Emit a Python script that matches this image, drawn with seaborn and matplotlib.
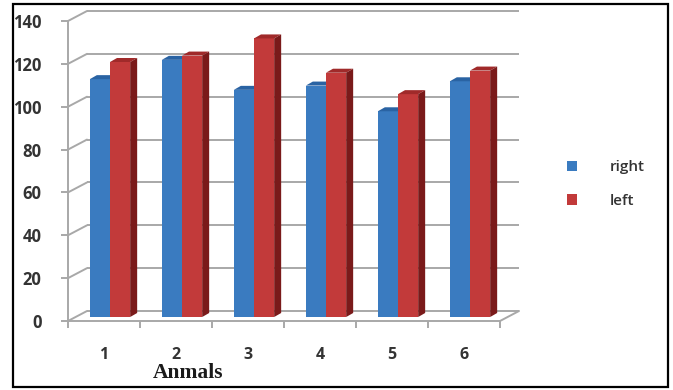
import matplotlib
matplotlib.use("Agg")
import matplotlib.pyplot as plt
from matplotlib.patches import Polygon, Rectangle
from matplotlib.transforms import offset_copy
from matplotlib.ticker import FixedLocator
import numpy as np
import pandas as pd
import seaborn as sns

# data
animals = ["1", "2", "3", "4", "5", "6"]
right_vals = [111, 120, 106, 108, 96, 110]
left_vals = [119, 122, 130, 114, 104, 115]
series_names = ["right", "left"]
y_ticks = [0, 20, 40, 60, 80, 100, 120, 140]

df = pd.DataFrame({
    "animal": animals * 2,
    "value": right_vals + left_vals,
    "side": ["right"] * len(animals) + ["left"] * len(animals),
})

sns.set_style("white")
plt.rcParams["font.family"] = ["Open Sans", "DejaVu Sans"]

W, H = 673, 390
DPI = 100
fig = plt.figure(figsize=(W / DPI, H / DPI), dpi=DPI)

# front plane of the plot box, in pixels
x0, x1 = 68, 500
y0, y1 = 321, 21
ax = fig.add_axes([x0 / W, (H - y0) / H, (x1 - x0) / W, (y0 - y1) / H])

front = {"right": "#3a7bc0", "left": "#c23a3a"}
tops = {"right": "#2a63a3", "left": "#a02a2a"}
sides = {"right": "#24548c", "left": "#7a1a1a"}

sns.barplot(data=df, x="animal", y="value", hue="side", hue_order=series_names,
            palette=front, width=0.56, gap=0, saturation=1, ax=ax,
            legend=False, errorbar=None, zorder=3)

ax.set_xlim(-0.5, len(animals) - 0.5)
ax.set_ylim(0, 140)

# pixel -> data conversions
px_x = (len(animals)) / (x1 - x0)
px_y = 140 / (y0 - y1)

grid_c = "#a8a8a8"
glw = 1.4
back_dx, back_dy = 19 * px_x, 10 * px_y

# back wall gridlines and left wall depth lines
for v in y_ticks:
    ax.plot([-0.5 + back_dx, len(animals) - 0.5 + back_dx], [v + back_dy, v + back_dy],
            color=grid_c, lw=glw, clip_on=False, zorder=1, solid_capstyle="butt")
    ax.plot([-0.5, -0.5 + back_dx], [v, v + back_dy], color=grid_c, lw=glw,
            clip_on=False, zorder=1)
# right floor edge
ax.plot([len(animals) - 0.5, len(animals) - 0.5 + back_dx], [0, back_dy],
        color=grid_c, lw=glw, clip_on=False, zorder=1)

# bars sit at mid depth; add top and side faces
bar_off = offset_copy(ax.transData, fig=fig, x=6, y=4, units="dots")
depth_x, depth_y = 7 * px_x, 4 * px_y
n = len(animals)
for i, p in enumerate(ax.patches[: 2 * n]):
    name = series_names[i // n]
    z = 3 if name == "right" else 4
    p.set_transform(bar_off)
    p.set_zorder(z)
    p.set_edgecolor("none")
    x, w, h = p.get_x(), p.get_width(), p.get_height()
    top = Polygon([(x, h), (x + w, h), (x + w + depth_x, h + depth_y), (x + depth_x, h + depth_y)],
                  closed=True, facecolor=tops[name], edgecolor="none",
                  transform=bar_off, zorder=z, clip_on=False)
    side = Polygon([(x + w, 0), (x + w, h), (x + w + depth_x, h + depth_y), (x + w + depth_x, depth_y)],
                   closed=True, facecolor=sides[name], edgecolor="none",
                   transform=bar_off, zorder=z, clip_on=False)
    ax.add_patch(top)
    ax.add_patch(side)

# axes styling
for s in ["top", "right"]:
    ax.spines[s].set_visible(False)
for s in ["left", "bottom"]:
    ax.spines[s].set_color(grid_c)
    ax.spines[s].set_linewidth(glw)
    ax.spines[s].set_zorder(2)
ax.set_yticks(y_ticks)
ax.set_yticklabels([str(v) for v in y_ticks])
ax.xaxis.set_minor_locator(FixedLocator(np.arange(-0.5, len(animals), 1.0)))
ax.tick_params(axis="y", which="major", left=True, length=5, width=glw, color=grid_c,
               labelsize=12, labelcolor="#333333", pad=14)
ax.tick_params(axis="x", which="major", bottom=False, labelsize=11.5,
               labelcolor="#333333", pad=15)
ax.tick_params(axis="x", which="minor", bottom=True, length=5, width=glw, color=grid_c)
for lab in ax.get_xticklabels() + ax.get_yticklabels():
    lab.set_fontweight("bold")
ax.set_xlabel("")
ax.set_ylabel("")
ax.grid(False)

fig.text(188 / W, 1 - 373 / H, "Anmals", ha="center", va="center",
         family="Liberation Serif", fontweight="bold", fontsize=15.5, color="#1a1a1a")

# legend
handles = [Rectangle((0, 0), 1, 1, facecolor=front[k], edgecolor="none") for k in series_names]
leg = fig.legend(handles, series_names, loc="center left",
                 bbox_to_anchor=(553 / W, 1 - 184 / H), frameon=False,
                 handlelength=0.7, handleheight=0.7, handletextpad=2.1,
                 labelspacing=1.25, fontsize=11)
for t in leg.get_texts():
    t.set_color("#333333")
    t.set_fontweight("semibold")

# outer frame
fig.patches.append(Rectangle((13 / W, 1 - 387 / H), (668 - 13) / W, (387 - 4) / H,
                             transform=fig.transFigure, fill=False,
                             edgecolor="black", lw=1.6, zorder=10))

fig.savefig("out.png", dpi=DPI)
